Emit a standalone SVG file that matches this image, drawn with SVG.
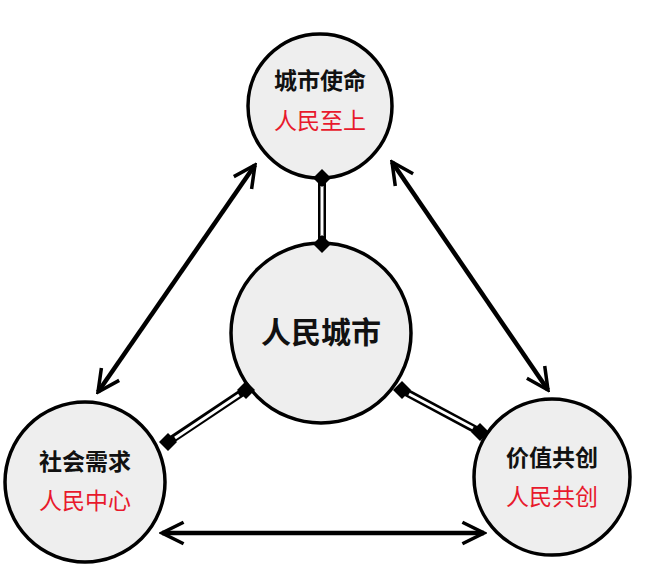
<svg xmlns="http://www.w3.org/2000/svg" width="652" height="582" viewBox="0 0 652 582">
<style>
.c{fill:#eeeeee;stroke:#000;stroke-width:3.5}
.t{font-family:"Noto Sans CJK SC",sans-serif;font-weight:bold;font-size:23px;text-anchor:middle;fill:#111}
.r{font-family:"Noto Sans CJK SC",sans-serif;font-size:23px;text-anchor:middle;fill:#e8192c}
.a{stroke:#000;stroke-width:4.5;fill:none;marker-start:url(#ah);marker-end:url(#ah)}
.d{stroke:#000;stroke-width:8}
.w{stroke:#fff;stroke-width:3}
</style>
<defs>
<marker id="ah" viewBox="0 0 10 10" refX="9" refY="5" markerWidth="6" markerHeight="6" orient="auto-start-reverse" markerUnits="strokeWidth"><path d="M1,1 L9,5 L1,9" fill="none" stroke="#000" stroke-width="1.3"/></marker>
<path id="dm" d="M-9,0 L0,-9 L9,0 L0,9Z" fill="#000"/>
</defs>
<rect width="652" height="582" fill="#fff"/>
<g id="top"><circle class="c" cx="320" cy="106" r="72"/><text class="t" x="320" y="89">城市使命</text><text class="r" x="320" y="129">人民至上</text></g>
<g id="center"><circle class="c" cx="321" cy="333" r="90"/><text class="t" x="321" y="343" style="font-size:30px">人民城市</text></g>
<g id="left"><circle class="c" cx="85" cy="482" r="80"/><text class="t" x="85" y="470">社会需求</text><text class="r" x="85" y="509">人民中心</text></g>
<g id="right"><circle class="c" cx="552" cy="477" r="78"/><text class="t" x="552" y="466">价值共创</text><text class="r" x="552" y="505">人民共创</text></g>
<g id="connectors">
<line class="a" x1="255" y1="165" x2="98" y2="392"/>
<line class="a" x1="392" y1="162" x2="548" y2="390"/>
<line class="a" x1="162" y1="533" x2="484" y2="533"/>
<line class="d" x1="322" y1="178" x2="322" y2="244"/><line class="w" x1="322" y1="186" x2="322" y2="236"/>
<line class="d" x1="246" y1="390" x2="168" y2="442"/><line class="w" x1="239" y1="395" x2="175" y2="438"/>
<line class="d" x1="402" y1="390" x2="480" y2="432"/><line class="w" x1="409" y1="394" x2="473" y2="428"/>
<use href="#dm" x="322" y="178"/><use href="#dm" x="322" y="244"/>
<use href="#dm" x="246" y="390"/><use href="#dm" x="168" y="442"/>
<use href="#dm" x="402" y="390"/><use href="#dm" x="480" y="432"/>
</g>
</svg>
